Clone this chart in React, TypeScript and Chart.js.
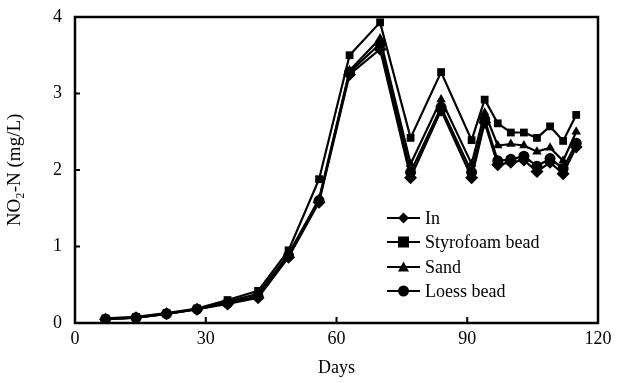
import React, { useEffect, useRef } from "react";
import { Chart, registerables } from "chart.js";

Chart.register(...registerables);

const days = [7, 14, 21, 28, 35, 42, 49, 56, 63, 70, 77, 84, 91, 94, 97, 100, 103, 106, 109, 112, 115];
const inValues = [0.05, 0.07, 0.12, 0.18, 0.25, 0.33, 0.86, 1.58, 3.25, 3.58, 1.9, 2.78, 1.9, 2.62, 2.07, 2.1, 2.13, 1.98, 2.1, 1.95, 2.3];
const styrofoamValues = [0.06, 0.08, 0.13, 0.19, 0.3, 0.42, 0.95, 1.88, 3.5, 3.93, 2.42, 3.28, 2.39, 2.92, 2.61, 2.49, 2.49, 2.42, 2.57, 2.38, 2.72];
const sandValues = [0.05, 0.07, 0.12, 0.18, 0.28, 0.38, 0.9, 1.62, 3.3, 3.72, 2.08, 2.92, 2.08, 2.75, 2.32, 2.34, 2.32, 2.24, 2.29, 2.12, 2.5];
const loessValues = [0.05, 0.07, 0.12, 0.18, 0.26, 0.35, 0.88, 1.6, 3.28, 3.65, 1.97, 2.82, 1.97, 2.66, 2.12, 2.14, 2.18, 2.05, 2.15, 2.02, 2.35];
const seriesNames = ["In", "Styrofoam bead", "Sand", "Loess bead"];
const xTicks = [0, 30, 60, 90, 120];
const yTicks = [0, 1, 2, 3, 4];

const FONT = "'Liberation Serif', 'Times New Roman', serif";

const frameAndLegend = {
  id: "frameAndLegend",
  afterDatasetsDraw(chart: any) {
    const { ctx, chartArea, scales } = chart;
    const { left, right, top, bottom } = chartArea;
    ctx.save();
    ctx.strokeStyle = "#000";
    ctx.lineWidth = 2.5;
    ctx.strokeRect(left, top, right - left, bottom - top);
    ctx.lineWidth = 2;
    ctx.beginPath();
    for (const v of yTicks.slice(1, -1)) {
      const y = scales.y.getPixelForValue(v);
      ctx.moveTo(left, y);
      ctx.lineTo(left + 5, y);
    }
    for (const v of xTicks.slice(1, -1)) {
      const x = scales.x.getPixelForValue(v);
      ctx.moveTo(x, bottom);
      ctx.lineTo(x, bottom - 6);
    }
    ctx.stroke();

    // legend
    const lx0 = left + (387 - 75);
    const lx1 = left + (420 - 75);
    const rows = [218, 242, 267, 291];
    chart.data.datasets.forEach((ds: any, i: number) => {
      const y = top + (rows[i] - 17);
      ctx.strokeStyle = "#000";
      ctx.lineWidth = 2;
      ctx.beginPath();
      ctx.moveTo(lx0, y);
      ctx.lineTo(lx1, y);
      ctx.stroke();
      ctx.fillStyle = "#000";
      const cx = (lx0 + lx1) / 2;
      const r = 5.5;
      ctx.beginPath();
      if (ds.pointStyle === "rect") {
        ctx.rect(cx - r, y - r, 2 * r, 2 * r);
      } else if (ds.pointStyle === "rectRot") {
        ctx.moveTo(cx, y - r);
        ctx.lineTo(cx + r, y);
        ctx.lineTo(cx, y + r);
        ctx.lineTo(cx - r, y);
        ctx.closePath();
      } else if (ds.pointStyle === "triangle") {
        ctx.moveTo(cx, y - r);
        ctx.lineTo(cx + r, y + r * 0.8);
        ctx.lineTo(cx - r, y + r * 0.8);
        ctx.closePath();
      } else {
        ctx.arc(cx, y, r, 0, Math.PI * 2);
      }
      ctx.fill();
      ctx.font = `18px ${FONT}`;
      ctx.textBaseline = "middle";
      ctx.textAlign = "left";
      ctx.fillText(ds.label, lx1 + 5, y + 1);
    });
    ctx.restore();
  },
};

export default function App() {
  const ref = useRef<HTMLCanvasElement>(null);
  useEffect(() => {
    const styles = ["rectRot", "rect", "triangle", "circle"];
    const vals = [inValues, styrofoamValues, sandValues, loessValues];
    const datasets = seriesNames.map((name, i) => ({
      label: name,
      data: days.map((d, j) => ({ x: d, y: vals[i][j] })),
      borderColor: "#000",
      backgroundColor: "#000",
      borderWidth: 2.2,
      pointStyle: styles[i],
      pointRadius: i === 0 ? 6.5 : 5.5,
      pointBorderWidth: 0,
      pointBackgroundColor: "#000",
      tension: 0,
    }));
    const chart = new Chart(ref.current!, {
      type: "line",
      data: { datasets },
      options: {
        animation: false,
        responsive: false,
        maintainAspectRatio: false,
        layout: { padding: { top: 17, right: 24, left: 0, bottom: 0 } },
        plugins: { legend: { display: false }, tooltip: { enabled: false } },
        scales: {
          x: {
            type: "linear",
            min: 0,
            max: 120,
            afterFit: (s: any) => { s.height = 60; },
            afterBuildTicks: (s: any) => { s.ticks = xTicks.map((v) => ({ value: v })); },
            grid: { display: false, drawTicks: false },
            border: { display: false },
            ticks: { color: "#000", font: { family: FONT, size: 18 }, padding: 5, maxRotation: 0 },
            title: { display: true, text: "Days", color: "#000", font: { family: FONT, size: 18 }, padding: { top: 2 } },
          },
          y: {
            type: "linear",
            min: 0,
            max: 4,
            afterFit: (s: any) => { s.width = 75; s.paddingTop = 0; },
            afterBuildTicks: (s: any) => { s.ticks = yTicks.map((v) => ({ value: v })); },
            grid: { display: false, drawTicks: false },
            border: { display: false },
            ticks: { color: "#000", font: { family: FONT, size: 18 }, padding: 13 },
            title: { display: true, text: "NO₂-N (mg/L)", color: "#000", font: { family: FONT, size: 19 }, padding: { bottom: 2 } },
          },
        },
      },
      plugins: [frameAndLegend],
    } as any);
    return () => chart.destroy();
  }, []);
  return (
    <div style={{ position: "absolute", left: 0, top: 0, width: 622, height: 383, background: "#fff" }}>
      <canvas ref={ref} width={622} height={383} />
    </div>
  );
}
